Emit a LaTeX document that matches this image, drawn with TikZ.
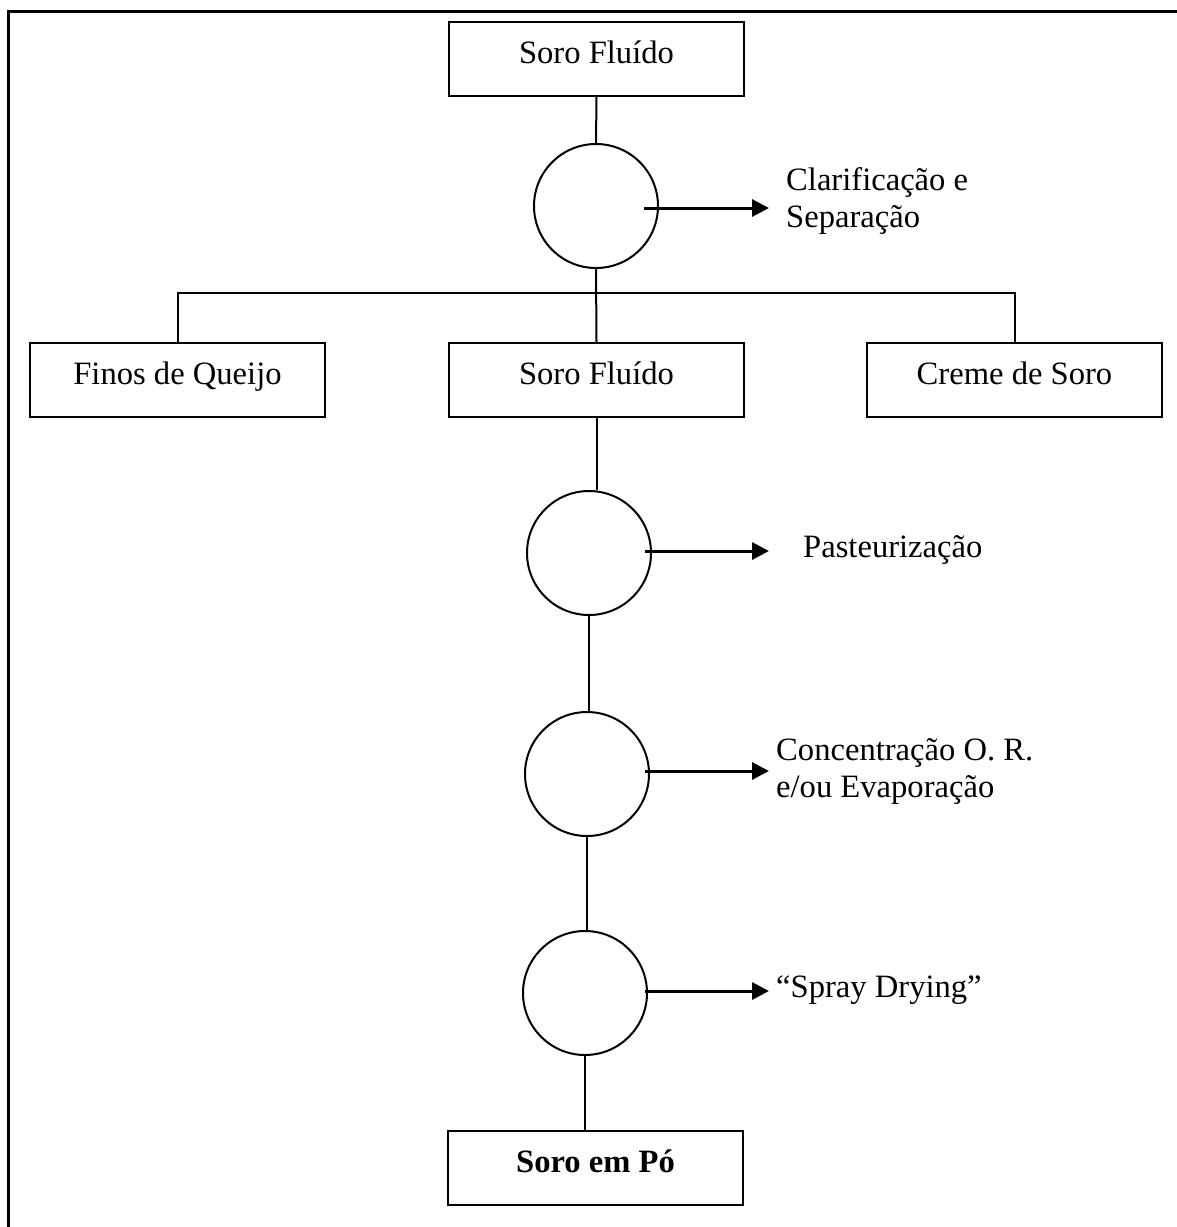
\documentclass[tikz,border=0pt]{standalone}
\usepackage{fontspec}
\setmainfont{Liberation Serif}
\usetikzlibrary{arrows.meta}
\begin{document}
\begin{tikzpicture}[x=1pt,y=-1pt,
  txt/.style={font=\fontsize{32.6}{37}\selectfont},
  stagebox/.style={txt, draw, line width=2pt, minimum width=295pt, minimum height=74pt,
    inner sep=0pt, text height=23pt, text depth=15pt},
  unitop/.style={draw, circle, line width=2pt, minimum size=124pt, inner sep=0pt},
  link/.style={line width=2pt},
  outflow/.style={line width=3pt, -{Triangle[length=17pt,width=17pt]}},
  note/.style={txt, anchor=west, align=left, inner sep=0pt}]
\useasboundingbox (0,0) rectangle (1177,1227);
% open frame: top and left edges only
\draw[line width=3pt] (1177,11) -- (8,11) -- (8,1227);

% main stream
\node[stagebox] (feed)  at (596.5,59)  {Soro Fluído};
\node[unitop]   (clar)  at (596,206)   {};
\node[stagebox] (fines) at (177.5,380) {Finos de Queijo};
\node[stagebox] (whey)  at (596.5,380) {Soro Fluído};
\node[stagebox] (cream) at (1014.5,380){Creme de Soro};
\node[unitop]   (past)  at (589,553)   {};
\node[unitop]   (conc)  at (587,774)   {};
\node[unitop]   (dry)   at (585,993)   {};
\node[stagebox,font=\fontsize{32.6}{37}\selectfont\bfseries] (powder) at (595.5,1168) {Soro em Pó};

\coordinate (split) at (596,293);

\draw[link] (feed.south) -- (clar.north);
\draw[link] (clar.south) -- (whey.north);
\draw[link] (fines.north) |- (split) -| (cream.north);
\draw[link] (whey.south) -- (whey.south |- past.north);
\draw[link] (past.south) -- (past.south |- conc.north);
\draw[link] (conc.south) -- (conc.south |- dry.north);
\draw[link] (dry.south) -- (dry.south |- powder.north);

% side outputs of each operation
\coordinate (o1) at (769,208);
\coordinate (o2) at (769,551);
\coordinate (o3) at (769,771);
\coordinate (o4) at (769,991);
\draw[outflow] ([xshift=48pt]clar.center |- o1) -- (o1);
\draw[outflow] ([xshift=56pt]past.center |- o2) -- (o2);
\draw[outflow] ([xshift=58pt]conc.center |- o3) -- (o3);
\draw[outflow] ([xshift=60pt]dry.center |- o4) -- (o4);

\node[note] (n1) at (786,201) {Clarificação e\\Separação};
\node[note] (n2) at (803,550) {Pasteurização};
\node[note] (n3) at (776,771) {Concentração O. R.\\e/ou Evaporação};
\node[note] (n4) at (776,990) {“Spray Drying”};
\end{tikzpicture}
\end{document}
